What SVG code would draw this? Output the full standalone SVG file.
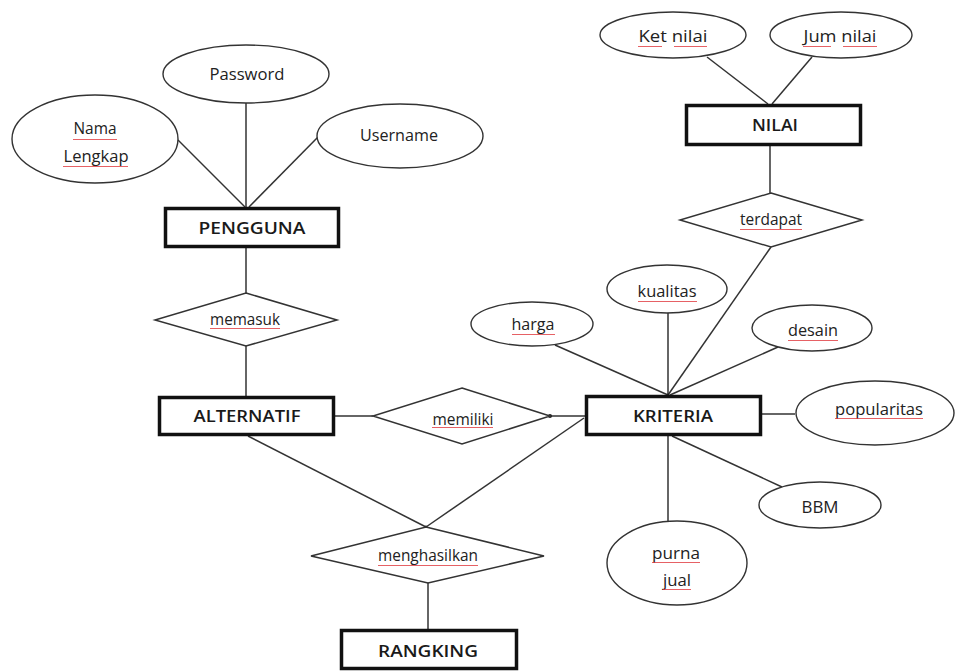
<svg xmlns="http://www.w3.org/2000/svg" width="955" height="671" viewBox="0 0 955 671">
<style>
.bg{fill:#fff}
.ent{fill:#fff;stroke:#111;stroke-width:3.5}
.att{fill:#fff;stroke:#333;stroke-width:1.4}
.rel{fill:#fff;stroke:#333;stroke-width:1.5}
.con line{stroke:#333;stroke-width:1.5}
text{font-family:"Open Sans","Liberation Sans",sans-serif;font-size:17px;fill:#222;text-anchor:middle}
.en{font-weight:600;fill:#1a1a1a}
.sq{fill:url(#sq)}
</style>
<defs>
<pattern id="sq" x="0" y="0" width="4" height="3" patternUnits="userSpaceOnUse">
<path d="M0,2 L1,1 L2,2 L3,1 L4,2" fill="none" stroke="#e0393e" stroke-width="0.8"/>
</pattern>
</defs>
<rect class="bg" x="0" y="0" width="955" height="671"/>
<g id="connectors" class="con">
<line x1="246" y1="103" x2="246" y2="207"/>
<line x1="178" y1="140" x2="245" y2="207"/>
<line x1="318" y1="137" x2="249" y2="207"/>
<line x1="246" y1="248" x2="246" y2="293"/>
<line x1="246" y1="346" x2="246" y2="396"/>
<line x1="707" y1="57" x2="768" y2="104"/>
<line x1="812" y1="57" x2="772" y2="104"/>
<line x1="770" y1="146" x2="770" y2="193"/>
<line x1="771" y1="247" x2="668" y2="395"/>
<line x1="335" y1="416" x2="373" y2="416"/>
<line x1="550" y1="416" x2="585" y2="416"/>
<line x1="555" y1="345" x2="668" y2="395"/>
<line x1="668" y1="313" x2="668" y2="395"/>
<line x1="778" y1="347" x2="670" y2="395"/>
<line x1="795" y1="414" x2="758" y2="414"/>
<line x1="668" y1="436" x2="668" y2="521"/>
<line x1="672" y1="436" x2="782" y2="487"/>
<line x1="248" y1="436" x2="426" y2="527"/>
<line x1="584" y1="418" x2="426" y2="527"/>
<line x1="428" y1="583" x2="428" y2="630"/>
<circle cx="550" cy="416" r="2" fill="#222"/>
<circle cx="758" cy="414" r="2" fill="#222"/>
<circle cx="668" cy="395" r="1.6" fill="#222"/>
<circle cx="426" cy="527" r="1.6" fill="#222"/>
</g>
<g id="password"><ellipse class="att" cx="246" cy="74" rx="83" ry="29"/><text x="247" y="80" textLength="75" lengthAdjust="spacingAndGlyphs">Password</text></g>
<g id="nama-lengkap"><ellipse class="att" cx="95" cy="139" rx="83" ry="44"/><text x="95" y="134" textLength="43" lengthAdjust="spacingAndGlyphs">Nama</text><text x="96" y="162" textLength="65" lengthAdjust="spacingAndGlyphs">Lengkap</text></g>
<g id="username"><ellipse class="att" cx="400" cy="136" rx="83" ry="32"/><text x="399" y="141" textLength="78" lengthAdjust="spacingAndGlyphs">Username</text></g>
<g id="pengguna"><rect class="ent" x="165.5" y="208.5" width="173" height="38"/><text class="en" x="252" y="234" textLength="107" lengthAdjust="spacingAndGlyphs">PENGGUNA</text></g>
<g id="memasuk"><polygon class="rel" points="246,293 337,320 246,346 155,320"/><text x="245" y="325" textLength="70" lengthAdjust="spacingAndGlyphs">memasuk</text></g>
<g id="alternatif"><rect class="ent" x="159.5" y="397.5" width="174" height="37"/><text class="en" x="247" y="422" textLength="107" lengthAdjust="spacingAndGlyphs">ALTERNATIF</text></g>
<g id="memiliki"><polygon class="rel" points="462,388 550,416 462,444 373,416"/><text x="463" y="425" textLength="61" lengthAdjust="spacingAndGlyphs">memiliki</text></g>
<g id="ket-nilai"><ellipse class="att" cx="673" cy="35" rx="73" ry="23"/><text x="673" y="42" textLength="69" lengthAdjust="spacingAndGlyphs">Ket  nilai</text></g>
<g id="jum-nilai"><ellipse class="att" cx="841" cy="35" rx="71" ry="23"/><text x="840" y="42" textLength="73" lengthAdjust="spacingAndGlyphs">Jum  nilai</text></g>
<g id="nilai"><rect class="ent" x="686.5" y="105.5" width="174" height="39"/><text class="en" x="775" y="131" textLength="46" lengthAdjust="spacingAndGlyphs">NILAI</text></g>
<g id="terdapat"><polygon class="rel" points="771,193 862,220 771,247 680,220"/><text x="771" y="225" textLength="62" lengthAdjust="spacingAndGlyphs">terdapat</text></g>
<g id="harga"><ellipse class="att" cx="532" cy="324" rx="61" ry="22"/><text x="533" y="330" textLength="43" lengthAdjust="spacingAndGlyphs">harga</text></g>
<g id="kualitas"><ellipse class="att" cx="667" cy="289" rx="60" ry="24"/><text x="667" y="297" textLength="59" lengthAdjust="spacingAndGlyphs">kualitas</text></g>
<g id="desain"><ellipse class="att" cx="812" cy="328" rx="60" ry="23"/><text x="813" y="336" textLength="50" lengthAdjust="spacingAndGlyphs">desain</text></g>
<g id="kriteria"><rect class="ent" x="586.5" y="396.5" width="174" height="38"/><text class="en" x="673" y="422" textLength="80" lengthAdjust="spacingAndGlyphs">KRITERIA</text></g>
<g id="popularitas"><ellipse class="att" cx="875" cy="413" rx="79" ry="32"/><text x="879" y="415" textLength="88" lengthAdjust="spacingAndGlyphs">popularitas</text></g>
<g id="bbm"><ellipse class="att" cx="820" cy="505" rx="61" ry="23"/><text x="820" y="513" textLength="37" lengthAdjust="spacingAndGlyphs">BBM</text></g>
<g id="purna-jual"><ellipse class="att" cx="677" cy="563" rx="70" ry="42"/><text x="676" y="559" textLength="48" lengthAdjust="spacingAndGlyphs">purna</text><text x="677" y="586" textLength="28" lengthAdjust="spacingAndGlyphs">jual</text></g>
<g id="menghasilkan"><polygon class="rel" points="426,527 544,556 428,583 311,556"/><text x="428" y="561" textLength="100" lengthAdjust="spacingAndGlyphs">menghasilkan</text></g>
<g id="rangking"><rect class="ent" x="341.5" y="630.5" width="175" height="38"/><text class="en" x="428" y="657" textLength="100" lengthAdjust="spacingAndGlyphs">RANGKING</text></g>
<g id="spellcheck">
<rect class="sq" x="73" y="137" width="44" height="3"/>
<rect class="sq" x="63" y="165" width="65" height="3"/>
<rect class="sq" x="638" y="45" width="24" height="3"/>
<rect class="sq" x="674" y="45" width="33" height="3"/>
<rect class="sq" x="803" y="45" width="28" height="3"/>
<rect class="sq" x="843" y="45" width="34" height="3"/>
<rect class="sq" x="740" y="229" width="62" height="3"/>
<rect class="sq" x="210" y="327" width="70" height="3"/>
<rect class="sq" x="432" y="427" width="61" height="3"/>
<rect class="sq" x="512" y="333" width="43" height="3"/>
<rect class="sq" x="638" y="300" width="59" height="3"/>
<rect class="sq" x="788" y="339" width="50" height="3"/>
<rect class="sq" x="835" y="418" width="88" height="3"/>
<rect class="sq" x="378" y="564" width="100" height="3"/>
<rect class="sq" x="652" y="562" width="48" height="3"/>
<rect class="sq" x="663" y="589" width="28" height="3"/>
</g>
</svg>
